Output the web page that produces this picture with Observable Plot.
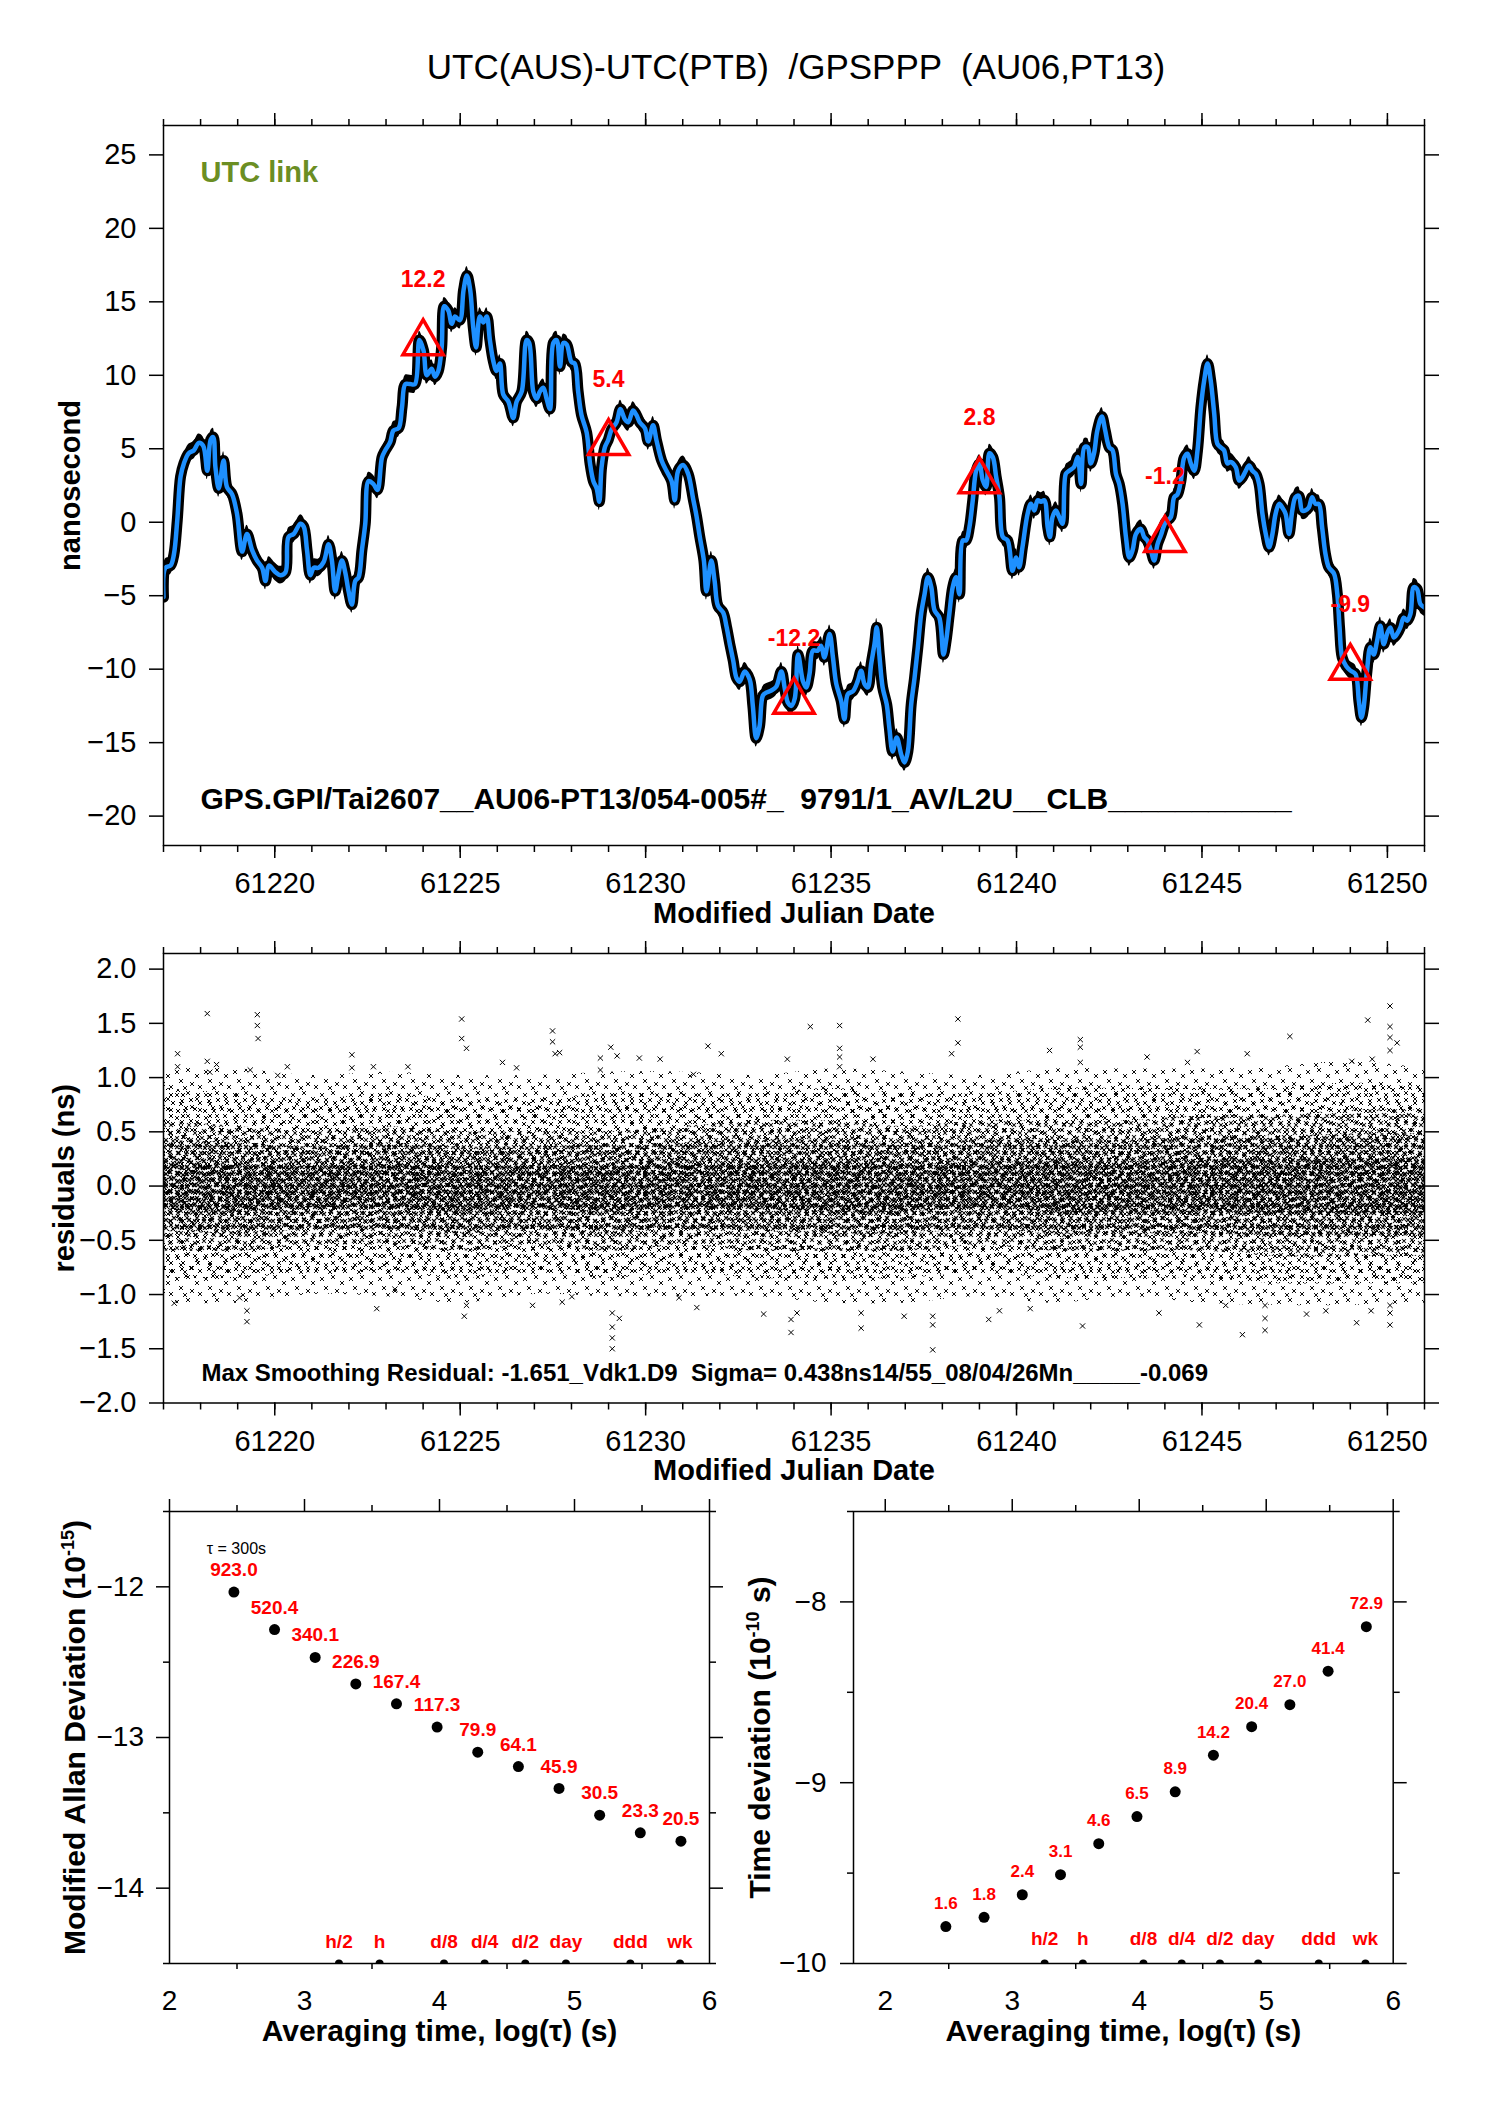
<!DOCTYPE html>
<html><head><meta charset="utf-8">
<script src="https://cdn.jsdelivr.net/npm/d3@7"></script>
<script src="https://cdn.jsdelivr.net/npm/@observablehq/plot@0.6"></script>
<style>
html,body{margin:0;padding:0;background:#fff;}
#root{position:relative;width:1488px;height:2105px;background:#fff;overflow:hidden;}
#root svg{position:absolute;}
</style></head><body><div id="root"></div>
<script>
// ---------- DATA ----------
// Top panel: smoothed UTC(AUS)-UTC(PTB) (ns)
const topMjd = [61217.00,61217.05,61217.19,61217.28,61217.37,61217.46,61217.55,61217.68,61217.82,61217.95,61218.07,61218.18,61218.27,61218.34,61218.40,61218.49,61218.62,61218.71,61218.85,61218.98,61219.12,61219.25,61219.39,61219.52,61219.66,61219.75,61219.84,61220.02,61220.15,61220.29,61220.37,61220.51,61220.69,61220.78,61220.87,61220.96,61221.05,61221.18,61221.32,61221.45,61221.54,61221.63,61221.72,61221.81,61221.90,61221.99,61222.08,61222.17,61222.26,61222.35,61222.44,61222.53,61222.66,61222.77,61222.89,61222.98,61223.11,61223.20,61223.34,61223.43,61223.52,61223.65,61223.78,61223.90,61224.01,61224.10,61224.23,61224.32,61224.41,61224.50,61224.57,61224.68,61224.77,61224.86,61224.99,61225.09,61225.18,61225.27,61225.35,61225.43,61225.53,61225.625,61225.715,61225.80,61225.89,61225.98,61226.07,61226.16,61226.30,61226.43,61226.52,61226.66,61226.79,61226.86,61226.97,61227.06,61227.15,61227.24,61227.33,61227.42,61227.51,61227.60,61227.69,61227.78,61227.87,61228.00,61228.09,61228.18,61228.27,61228.41,61228.50,61228.59,61228.68,61228.75,61228.81,61228.90,61228.99,61229.08,61229.215,61229.32,61229.44,61229.53,61229.66,61229.75,61229.84,61229.98,61230.07,61230.20,61230.29,61230.43,61230.56,61230.70,61230.785,61230.875,61231.01,61231.145,61231.28,61231.37,61231.46,61231.57,61231.64,61231.77,61231.86,61231.95,61232.09,61232.18,61232.27,61232.36,61232.45,61232.535,61232.67,61232.805,61232.89,61232.98,61233.07,61233.16,61233.25,61233.39,61233.52,61233.66,61233.75,61233.84,61233.93,61234.02,61234.11,61234.24,61234.33,61234.42,61234.51,61234.64,61234.73,61234.82,61234.96,61235.05,61235.14,61235.27,61235.36,61235.45,61235.59,61235.72,61235.81,61235.90,61235.99,61236.08,61236.17,61236.23,61236.30,61236.39,61236.50,61236.57,61236.66,61236.77,61236.89,61236.98,61237.07,61237.16,61237.25,61237.34,61237.43,61237.52,61237.61,61237.70,61237.79,61237.92,61238.03,61238.10,61238.19,61238.28,61238.37,61238.46,61238.55,61238.64,61238.73,61238.82,61238.91,61239.00,61239.09,61239.18,61239.27,61239.36,61239.45,61239.54,61239.63,61239.76,61239.89,61239.99,61240.07,61240.16,61240.30,61240.39,61240.48,61240.57,61240.66,61240.75,61240.84,61240.90,61240.97,61241.06,61241.15,61241.24,61241.33,61241.42,61241.55,61241.65,61241.74,61241.83,61241.92,61242.00,61242.09,61242.18,61242.30,61242.39,61242.50,61242.59,61242.68,61242.77,61242.86,61242.95,61243.04,61243.13,61243.22,61243.35,61243.44,61243.53,61243.62,61243.71,61243.80,61243.89,61244.02,61244.16,61244.25,61244.34,61244.43,61244.52,61244.61,61244.70,61244.79,61244.88,61244.97,61245.06,61245.15,61245.235,61245.33,61245.415,61245.505,61245.595,61245.685,61245.77,61245.91,61246.00,61246.09,61246.18,61246.27,61246.36,61246.45,61246.54,61246.63,61246.72,61246.81,61246.90,61246.985,61247.08,61247.165,61247.255,61247.345,61247.435,61247.52,61247.61,61247.70,61247.79,61247.88,61247.97,61248.06,61248.15,61248.24,61248.33,61248.42,61248.56,61248.65,61248.71,61248.78,61248.89,61249.005,61249.14,61249.23,61249.30,61249.36,61249.45,61249.54,61249.63,61249.72,61249.81,61249.90,61249.99,61250.08,61250.17,61250.26,61250.35,61250.44,61250.53,61250.62,61250.71,61250.80,61250.89,61251.00];
const topNs = [-5.1,-3.1,-2.95,-2.2,0.1,3.1,4.0,4.7,4.9,5.4,5.2,3.5,5.6,5.8,3.75,2.3,4.2,2.4,1.9,0.6,-2.0,-0.8,-1.9,-2.6,-3.1,-4.0,-2.95,-3.4,-3.6,-3.4,-1.0,-0.8,-0.1,-0.3,-1.9,-3.6,-3.1,-3.1,-2.7,-1.5,-2.6,-4.7,-3.5,-2.6,-3.4,-4.7,-5.6,-4.0,-3.75,-1.9,-0.1,2.8,2.6,2.2,4.4,4.9,5.45,6.25,6.4,7.8,9.4,9.4,9.4,12.4,11.7,10.0,10.45,9.9,10.3,11.9,14.7,14.4,13.5,14.0,13.75,15.8,16.8,15.8,13.3,11.9,14.0,13.6,14.0,12.4,11.0,10.3,10.8,8.7,8.2,7.1,8.2,8.9,12.4,12.2,8.9,8.4,8.9,9.15,8.4,7.7,12.2,12.4,10.6,12.2,12.1,10.9,10.8,8.9,7.3,6.1,4.0,2.8,2.3,1.4,3.7,5.1,5.6,6.3,6.8,7.7,7.0,6.8,7.6,7.3,6.8,6.4,5.5,6.6,5.6,4.2,3.5,2.8,1.5,3.5,3.9,3.3,1.6,0.44,-1.0,-2.6,-4.7,-2.6,-4.0,-5.7,-6.15,-7.1,-8.3,-9.4,-10.6,-10.85,-10.15,-10.7,-12.5,-14.7,-13.9,-11.8,-11.6,-11.45,-11.2,-10.15,-11.3,-12.3,-12.5,-12.0,-9.0,-10.8,-11.24,-10.3,-8.74,-8.74,-8.4,-9.2,-7.6,-9.2,-11.0,-12.15,-13.4,-11.7,-11.5,-10.8,-10.1,-11.0,-11.24,-9.65,-8.3,-7.15,-9.0,-11.24,-12.4,-13.97,-15.6,-14.65,-15.8,-16.35,-15.6,-12.4,-10.6,-8.5,-6.2,-4.9,-3.74,-4.4,-6.0,-6.5,-9.0,-8.1,-6.2,-4.4,-3.74,-4.9,-1.24,-1.24,-0.33,1.5,3.5,4.0,2.85,2.4,4.7,4.44,3.1,1.7,-1.0,-1.24,-3.3,-2.4,-3.06,-1.7,0.6,1.26,0.8,1.5,1.4,1.5,-0.33,-1.0,0.35,0.8,0.35,-0.1,3.3,3.5,3.76,4.44,2.6,5.1,5.1,4.0,4.7,6.26,7.2,6.26,5.1,4.9,3.3,2.6,1.25,-1.0,-2.4,-1.9,-0.8,-0.45,-1.0,-1.25,-1.9,-2.6,-1.5,-0.9,0.0,0.35,1.7,1.9,2.8,4.4,4.66,4.0,3.5,4.9,7.8,9.66,10.8,9.66,7.4,5.34,5.1,4.9,4.0,4.1,3.75,2.84,3.07,3.5,3.86,3.5,3.3,2.6,0.57,-0.8,-1.7,-0.8,0.57,1.25,1.0,0.57,-0.8,0.8,1.7,1.8,0.8,0.8,1.0,1.7,1.25,1.25,-0.34,-2.16,-3.07,-3.5,-4.9,-7.16,-9.2,-9.8,-10.1,-10.34,-12.16,-13.3,-12.6,-10.1,-8.5,-9.0,-8.1,-7.05,-8.3,-7.6,-7.16,-7.84,-7.6,-7.16,-6.5,-6.7,-6.25,-4.43,-4.55,-5.57,-5.8];

// Red triangle markers (daily samples)
const triMjd = [61224, 61229, 61234, 61239, 61244, 61249];
const triNs  = [12.2, 5.4, -12.2, 2.8, -1.2, -9.9];

// Residual panel: nested envelopes of the x-marker cloud (every 2 days), outermost first
const bandMjd = [61217,61219,61221,61223,61225,61227,61229,61231,61233,61235,61237,61239,61241,61243,61245,61247,61249,61251];
const env1Hi = [1.08,1.08,1.02,1.05,1.02,1.02,1.05,1.05,1.02,1.08,1.05,1.02,1.08,1.08,1.08,1.1,1.15,1.08];
const env1Lo = [-1.08,-1.08,-1.0,-1.02,-1.08,-1.0,-1.02,-1.02,-1.02,-1.08,-1.08,-1.02,-1.08,-1.02,-1.08,-1.1,-1.1,-1.08];
const env2Hi = [0.9,0.85,0.8,0.85,0.8,0.8,0.85,0.85,0.85,0.9,0.85,0.85,0.9,0.9,0.9,0.9,0.95,0.9];
const env2Lo = [-0.85,-0.85,-0.8,-0.8,-0.85,-0.8,-0.85,-0.8,-0.85,-0.85,-0.85,-0.8,-0.85,-0.85,-0.85,-0.9,-0.9,-0.9];
const env3Hi = [0.6,0.55,0.5,0.55,0.5,0.5,0.5,0.55,0.6,0.6,0.55,0.6,0.6,0.6,0.65,0.65,0.7,0.7];
const env3Lo = [-0.6,-0.6,-0.55,-0.55,-0.6,-0.55,-0.6,-0.55,-0.6,-0.6,-0.6,-0.55,-0.6,-0.6,-0.6,-0.65,-0.65,-0.65];
const env4Hi = [0.42,0.4,0.36,0.4,0.36,0.36,0.38,0.4,0.42,0.42,0.4,0.42,0.42,0.42,0.46,0.46,0.48,0.48];
const env4Lo = [-0.42,-0.44,-0.4,-0.4,-0.44,-0.4,-0.44,-0.4,-0.42,-0.44,-0.44,-0.4,-0.44,-0.44,-0.44,-0.46,-0.46,-0.46];
const env5Hi = [0.22,0.2,0.18,0.2,0.18,0.18,0.18,0.2,0.2,0.22,0.2,0.22,0.22,0.22,0.24,0.24,0.25,0.25];
const env5Lo = [-0.22,-0.24,-0.2,-0.2,-0.24,-0.2,-0.24,-0.2,-0.22,-0.24,-0.24,-0.2,-0.24,-0.24,-0.24,-0.25,-0.25,-0.25];
const resMjd = [61218.18,61219.53,61219.53,61219.55,61217.38,61217.38,61217.29,61218.18,61218.25,61218.43,61219.25,61219.05,61219.25,61219.34,61220.08,61220.34,61222.08,61222.08,61222.66,61222.75,61223.24,61223.59,61225.04,61225.04,61225.17,61225.11,61225.17,61226.14,61226.52,61226.95,61227.49,61227.49,61227.56,61227.68,61227.75,61228.01,61228.78,61228.78,61229.06,61229.10,61229.10,61229.10,61229.10,61229.29,61229.23,61229.83,61230.39,61231.29,61231.38,61231.68,61232.04,61230.90,
  61234.44,61235.23,61235.23,61235.23,61235.23,61233.82,61236.13,61238.42,61238.42,61238.25,61241.72,61241.72,61241.72,61240.89,61243.52,61244.87,61244.61,61247.37,61246.22,61249.47,61250.07,61250.07,61250.07,61250.26,61250.07,61249.04,61249.59,61237.74,61233.92,61233.92,61234.08,61233.18,61235.81,61235.81,61237.74,61237.74,61236.97,61239.25,61239.54,61240.37,61241.78,61243.84,61244.93,61246.09,61246.70,61246.70,61246.70,61247.82,61249.17,61249.56,61250.07,61250.07,61250.07,61248.34,61245.64];
const resNs = [1.59,1.58,1.48,1.36,1.22,1.10,-1.08,1.15,1.05,1.12,-1.25,-1.03,-1.15,1.07,1.02,1.10,1.21,1.09,1.10,-1.13,-0.95,1.10,1.54,1.36,1.27,-1.2,-1.1,1.14,1.09,-1.1,1.43,1.33,1.22,1.23,-1.07,-1.02,1.18,1.07,1.28,-1.17,-1.30,-1.40,-1.50,-1.22,1.2,1.18,1.17,1.03,-1.12,1.29,1.22,-1.03,
  1.47,1.48,1.27,1.19,1.10,1.17,1.17,1.54,1.32,1.22,1.35,1.28,1.14,1.25,1.19,1.24,1.14,1.38,1.22,1.53,1.66,1.47,1.37,1.32,1.25,1.15,1.17,-1.51,-1.35,-1.23,-1.17,-1.18,-1.31,-1.17,-1.28,-1.2,-1.2,-1.23,-1.15,-1.13,-1.29,-1.17,-1.28,-1.37,-1.33,-1.22,-1.10,-1.18,-1.26,-1.15,-1.28,-1.17,-1.1,-1.15,-1.1];

// Stability panels
const tauSec = [300, 600, 1200, 2400, 4800, 9600, 19200, 38400, 76800, 153600, 307200, 614400];
const modAdev = [923.0, 520.4, 340.1, 226.9, 167.4, 117.3, 79.9, 64.1, 45.9, 30.5, 23.3, 20.5]; // x1e-15
const tDev = [1.6, 1.8, 2.4, 3.1, 4.6, 6.5, 8.9, 14.2, 20.4, 27.0, 41.4, 72.9]; // x1e-10 s
const spanNames = ["h/2", "h", "d/8", "d/4", "d/2", "day", "ddd", "wk"];
const spanSec = [1800, 3600, 10800, 21600, 43200, 86400, 259200, 604800];

// Ticks and texts
const xMajor = [61220, 61225, 61230, 61235, 61240, 61245, 61250];
const xMinor = d3.range(61217, 61252);
const yTop = [-20, -15, -10, -5, 0, 5, 10, 15, 20, 25];
const yRes = [-2, -1.5, -1, -0.5, 0, 0.5, 1, 1.5, 2];
const logMajor = [2, 3, 4, 5, 6];
const logMinor = [2.5, 3.5, 4.5, 5.5];
const titleText = "UTC(AUS)-UTC(PTB)  /GPSPPP  (AU06,PT13)";
const infoText = "GPS.GPI/Tai2607__AU06-PT13/054-005#_  9791/1_AV/L2U__CLB___________";
const resText = "Max Smoothing Residual: -1.651_Vdk1.D9  Sigma= 0.438ns14/55_08/04/26Mn_____-0.069";

// ---------- RENDER ----------
const FONT = '"Liberation Sans", Arial, Helvetica, sans-serif';
const root = document.getElementById("root");
const style = () => ({fontFamily: FONT, fontSize: "29px", color: "black", background: "transparent", overflow: "visible"});
const none = () => "";
const fInt = d3.format("d");
const f1 = d3.format(".1f");
const T = d => d;

// x-marker textures (irregular tiles)
const defSvg = d3.select(root).append("svg").attr("width", 0).attr("height", 0).style("left", "0px").style("top", "0px");
const defs = defSvg.append("defs");
function pattern(id, w, h, pts, sw) {
  const p = defs.append("pattern").attr("id", id).attr("patternUnits", "userSpaceOnUse").attr("width", w).attr("height", h);
  p.append("path").attr("d", pts.map(([x, y]) => `M${x},${y}l4,4m0,-4l-4,4`).join(""))
    .attr("stroke", "black").attr("stroke-width", sw).attr("fill", "none");
}
pattern("p1", 29, 23, [[1,2],[12,0],[21,6],[5,11],[16,14],[24,17],[9,18]], 0.95);
pattern("p2", 27, 21, [[0,0],[9,3],[18,1],[4,9],[14,11],[22,8],[7,16],[19,16]], 1.0);
pattern("p3", 25, 22, [[2,1],[10,0],[18,3],[0,8],[7,7],[14,10],[21,11],[4,15],[12,17],[19,17]], 1.05);
pattern("p4", 23, 20, [[0,2],[7,0],[15,1],[3,8],[11,6],[18,9],[1,15],[8,13],[14,15],[19,16]], 1.1);
pattern("p5", 21, 19, [[1,0],[8,2],[15,0],[4,6],[12,8],[17,7],[0,12],[7,13],[13,15],[17,14]], 1.1);

function place(svg, left, top) {
  svg.style.left = left + "px";
  svg.style.top = top + "px";
  root.appendChild(svg);
}
function superscript(svg, full, before, sup, after) {
  d3.select(svg).selectAll("text").filter(function () { return this.textContent === full; }).each(function () {
    const t = d3.select(this);
    t.text(null);
    t.append("tspan").text(before);
    t.append("tspan").attr("dy", "-11").attr("font-size", "18").text(sup);
    t.append("tspan").attr("dy", "11").text(after);
  });
}

// Panel 1
const series = topMjd.map((m, i) => ({mjd: m, v: topNs[i]}));
const tris = triMjd.map((m, i) => ({mjd: m, v: triNs[i]}));
const svg1 = Plot.plot({
  width: 1488, height: 930, marginTop: 125, marginBottom: 85, marginLeft: 163, marginRight: 64,
  x: {domain: [61217, 61251]}, y: {domain: [-22, 27]},
  style: style(),
  marks: [
    // black cloud of raw points around the smoothed curve (vertical spread ~ +/-0.6 ns)
    Plot.areaY(series, {x: "mjd", y1: d => d.v - 0.6, y2: d => d.v + 0.6, fill: "black", curve: "catmull-rom", clip: true}),
    Plot.line(series, {x: "mjd", y: "v", stroke: "black", strokeWidth: 11, curve: "catmull-rom", strokeLinejoin: "round", clip: true}),
    Plot.line(series, {x: "mjd", y: "v", stroke: "#1e90ff", strokeWidth: 4.5, curve: "catmull-rom", strokeLinejoin: "round", clip: true}),
    Plot.dot(tris, {x: "mjd", y: "v", symbol: "triangle", r: 15, stroke: "#ff0000", strokeWidth: 3.5, fill: "none"}),
    Plot.text(tris, {x: "mjd", y: "v", text: d => d.v.toFixed(1), dy: -63, fill: "#ff0000", fontWeight: "bold", fontSize: 23}),
    Plot.frame({stroke: "black", strokeWidth: 1.5}),
    Plot.axisX({anchor: "bottom", ticks: xMinor, tickSize: 7, tickFormat: none, label: null, strokeWidth: 1.5}),
    Plot.axisX({anchor: "bottom", ticks: xMajor, tickSize: 13, tickPadding: 14, tickFormat: d => String(d), label: null, fontSize: 29, strokeWidth: 1.5}),
    Plot.axisX({anchor: "top", ticks: xMinor, tickSize: 7, tickFormat: none, label: null, strokeWidth: 1.5}),
    Plot.axisX({anchor: "top", ticks: xMajor, tickSize: 13, tickFormat: none, label: null, strokeWidth: 1.5}),
    Plot.axisY({anchor: "left", ticks: yTop, tickSize: 14, tickPadding: 13, tickFormat: fInt, label: null, fontSize: 29, strokeWidth: 1.5}),
    Plot.axisY({anchor: "right", ticks: yTop, tickSize: 14, tickFormat: none, label: null, strokeWidth: 1.5}),
    Plot.text([titleText], {text: T, frameAnchor: "top", dx: 2, dy: -47, lineAnchor: "bottom", fontSize: 35}),
    Plot.text(["UTC link"], {text: T, frameAnchor: "top-left", dx: 37, dy: 47, textAnchor: "start", lineAnchor: "middle", fill: "#6b8e23", fontWeight: "bold", fontSize: 29}),
    Plot.text([infoText], {text: T, frameAnchor: "bottom-left", dx: 37, dy: -46, textAnchor: "start", lineAnchor: "middle", fontWeight: "bold", fontSize: 30}),
    Plot.text(["nanosecond"], {text: T, frameAnchor: "left", dx: -93, rotate: -90, textAnchor: "middle", lineAnchor: "middle", fontWeight: "bold", fontSize: 29}),
    Plot.text(["Modified Julian Date"], {text: T, frameAnchor: "bottom", dy: 68, lineAnchor: "middle", fontWeight: "bold", fontSize: 29})
  ]
});
place(svg1, 0, 0);

// Panel 2
const bands = bandMjd.map((m, i) => ({mjd: m,
  h1: env1Hi[i], l1: env1Lo[i], h2: env2Hi[i], l2: env2Lo[i], h3: env3Hi[i], l3: env3Lo[i],
  h4: env4Hi[i], l4: env4Lo[i], h5: env5Hi[i], l5: env5Lo[i]}));
const outl = resMjd.map((m, i) => ({mjd: m, v: resNs[i]}));
const band = (k) => Plot.areaY(bands, {x: "mjd", y1: "l" + k, y2: "h" + k, fill: `url(#p${k})`, curve: "catmull-rom"});
const svg2 = Plot.plot({
  width: 1488, height: 570, marginTop: 23, marginBottom: 97.5, marginLeft: 163, marginRight: 64,
  x: {domain: [61217, 61251]}, y: {domain: [-2, 2.144]},
  style: style(),
  marks: [
    band(1), band(2), band(3), band(4), band(5),
    Plot.dot(outl, {x: "mjd", y: "v", symbol: "times", r: 2.5, stroke: "black", strokeWidth: 1}),
    Plot.text([resText], {text: T, frameAnchor: "bottom-left", dx: 38, dy: -29.5, textAnchor: "start", lineAnchor: "middle", fontWeight: "bold", fontSize: 24}),
    Plot.frame({stroke: "black", strokeWidth: 1.5}),
    Plot.axisX({anchor: "bottom", ticks: xMinor, tickSize: 7, tickFormat: none, label: null, strokeWidth: 1.5}),
    Plot.axisX({anchor: "bottom", ticks: xMajor, tickSize: 13, tickPadding: 14, tickFormat: d => String(d), label: null, fontSize: 29, strokeWidth: 1.5}),
    Plot.axisX({anchor: "top", ticks: xMinor, tickSize: 7, tickFormat: none, label: null, strokeWidth: 1.5}),
    Plot.axisX({anchor: "top", ticks: xMajor, tickSize: 13, tickFormat: none, label: null, strokeWidth: 1.5}),
    Plot.axisY({anchor: "left", ticks: yRes, tickSize: 14, tickPadding: 13, tickFormat: f1, label: null, fontSize: 29, strokeWidth: 1.5}),
    Plot.axisY({anchor: "right", ticks: yRes, tickSize: 14, tickFormat: none, label: null, strokeWidth: 1.5}),
    Plot.text(["residuals (ns)"], {text: T, frameAnchor: "left", dx: -99, rotate: -90, textAnchor: "middle", lineAnchor: "middle", fontWeight: "bold", fontSize: 29}),
    Plot.text(["Modified Julian Date"], {text: T, frameAnchor: "bottom", dy: 68, lineAnchor: "middle", fontWeight: "bold", fontSize: 29})
  ]
});
place(svg2, 0, 930);

// Panel 3 (modified Allan deviation)
const adev = tauSec.map((t, i) => ({x: Math.log10(t), y: Math.log10(modAdev[i]) - 15, label: modAdev[i].toFixed(1)}));
const spansL = spanSec.map((s, i) => ({x: Math.log10(s), name: spanNames[i]}));
const tauNote = [{x: Math.log10(tauSec[0]), y: Math.log10(modAdev[0]) - 15, text: "τ = 300s"}];
const svg3 = Plot.plot({
  width: 740, height: 615, marginTop: 21, marginBottom: 142, marginLeft: 169, marginRight: 31,
  x: {domain: [2, 6]}, y: {domain: [-14.5, -11.5]},
  style: style(),
  marks: [
    Plot.dot(spansL, {x: "x", y: () => -14.5, r: 4, fill: "black", clip: true}),
    Plot.text(spansL, {x: "x", y: () => -14.5, text: "name", dy: -22, fill: "#ff0000", fontWeight: "bold", fontSize: 19}),
    Plot.dot(adev, {x: "x", y: "y", r: 5.5, fill: "black"}),
    Plot.text(adev, {x: "x", y: "y", text: "label", dy: -22, fill: "#ff0000", fontWeight: "bold", fontSize: 19}),
    Plot.text(tauNote, {x: "x", y: "y", text: "text", dx: 2.5, dy: -43, fontSize: 16}),
    Plot.frame({stroke: "black", strokeWidth: 1.5}),
    Plot.axisX({anchor: "bottom", ticks: logMajor, tickSize: 0, tickPadding: 27, tickFormat: fInt, label: null, fontSize: 28}),
    Plot.axisX({anchor: "bottom", ticks: logMinor, tickSize: 6, tickFormat: none, label: null, strokeWidth: 1.5}),
    Plot.axisX({anchor: "top", ticks: logMajor, tickSize: 13, tickFormat: none, label: null, strokeWidth: 1.5}),
    Plot.axisX({anchor: "top", ticks: logMinor, tickSize: 7, tickFormat: none, label: null, strokeWidth: 1.5}),
    Plot.axisY({anchor: "left", ticks: [-14, -13, -12], tickSize: 13, tickPadding: 12.5, tickFormat: fInt, label: null, fontSize: 28, strokeWidth: 1.5}),
    Plot.axisY({anchor: "left", ticks: [-14.5, -13.5, -12.5, -11.5], tickSize: 6, tickFormat: none, label: null, strokeWidth: 1.5}),
    Plot.axisY({anchor: "right", ticks: [-14, -13, -12], tickSize: 13, tickFormat: none, label: null, strokeWidth: 1.5}),
    Plot.axisY({anchor: "right", ticks: [-14.5, -13.5, -12.5, -11.5], tickSize: 6, tickFormat: none, label: null, strokeWidth: 1.5}),
    Plot.text(["Modified Allan Deviation (10-15)"], {text: T, frameAnchor: "left", dx: -94.6, rotate: -90, textAnchor: "middle", lineAnchor: "middle", fontWeight: "bold", fontSize: 30}),
    Plot.text(["Averaging time, log(τ) (s)"], {text: T, frameAnchor: "bottom", dy: 68, lineAnchor: "middle", fontWeight: "bold", fontSize: 30})
  ]
});
superscript(svg3, "Modified Allan Deviation (10-15)", "Modified Allan Deviation (10", "-15", ")");
place(svg3, 0, 1490);

// Panel 4 (time deviation)
const tdv = tauSec.map((t, i) => ({x: Math.log10(t), y: Math.log10(tDev[i]) - 10, label: tDev[i].toFixed(1)}));
const svg4 = Plot.plot({
  width: 748, height: 615, marginTop: 21, marginBottom: 142, marginLeft: 113, marginRight: 95.3,
  x: {domain: [1.75, 6]}, y: {domain: [-10, -7.5]},
  style: style(),
  marks: [
    Plot.dot(spansL, {x: "x", y: () => -10, r: 4, fill: "black", clip: true}),
    Plot.text(spansL, {x: "x", y: () => -10, text: "name", dy: -25, fill: "#ff0000", fontWeight: "bold", fontSize: 19}),
    Plot.dot(tdv, {x: "x", y: "y", r: 5.5, fill: "black"}),
    Plot.text(tdv, {x: "x", y: "y", text: "label", dy: -23, fill: "#ff0000", fontWeight: "bold", fontSize: 17}),
    Plot.frame({stroke: "black", strokeWidth: 1.5}),
    Plot.axisX({anchor: "bottom", ticks: logMajor, tickSize: 0, tickPadding: 27, tickFormat: fInt, label: null, fontSize: 28}),
    Plot.axisX({anchor: "bottom", ticks: logMinor, tickSize: 6, tickFormat: none, label: null, strokeWidth: 1.5}),
    Plot.axisX({anchor: "top", ticks: logMajor, tickSize: 13, tickFormat: none, label: null, strokeWidth: 1.5}),
    Plot.axisX({anchor: "top", ticks: logMinor, tickSize: 7, tickFormat: none, label: null, strokeWidth: 1.5}),
    Plot.axisY({anchor: "left", ticks: [-10, -9, -8], tickSize: 13, tickPadding: 14, tickFormat: fInt, label: null, fontSize: 28, strokeWidth: 1.5}),
    Plot.axisY({anchor: "left", ticks: [-9.5, -8.5, -7.5], tickSize: 6, tickFormat: none, label: null, strokeWidth: 1.5}),
    Plot.axisY({anchor: "right", ticks: [-10, -9, -8], tickSize: 13, tickFormat: none, label: null, strokeWidth: 1.5}),
    Plot.axisY({anchor: "right", ticks: [-9.5, -8.5, -7.5], tickSize: 6, tickFormat: none, label: null, strokeWidth: 1.5}),
    Plot.text(["Time deviation (10-10 s)"], {text: T, frameAnchor: "left", dx: -93.6, rotate: -90, textAnchor: "middle", lineAnchor: "middle", fontWeight: "bold", fontSize: 30}),
    Plot.text(["Averaging time, log(τ) (s)"], {text: T, frameAnchor: "bottom", dy: 68, lineAnchor: "middle", fontWeight: "bold", fontSize: 30})
  ]
});
superscript(svg4, "Time deviation (10-10 s)", "Time deviation (10", "-10", " s)");
place(svg4, 740, 1490);
</script></body></html>
